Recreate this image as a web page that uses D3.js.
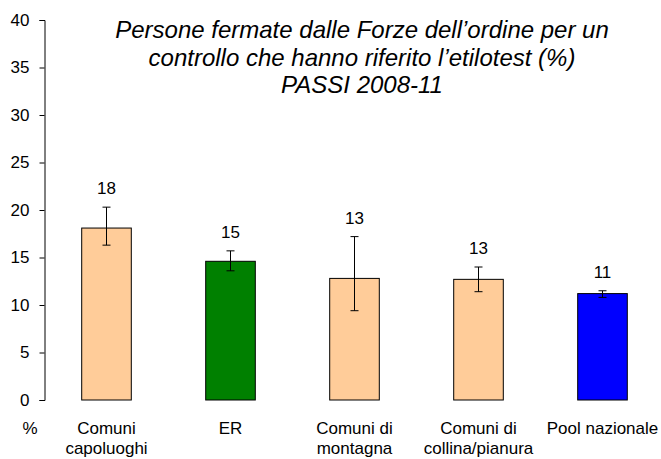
<!DOCTYPE html>
<html>
<head>
<meta charset="utf-8">
<script src="https://cdn.jsdelivr.net/npm/d3@7"></script>
<style>
  body { margin: 0; background: #fff; }
  svg { display: block; font-family: "Liberation Sans", Arial, sans-serif; }
</style>
</head>
<body>
<svg width="661" height="459"></svg>
<script>
const categories = [
  ["Comuni", "capoluoghi"],
  ["ER"],
  ["Comuni di", "montagna"],
  ["Comuni di", "collina/pianura"],
  ["Pool nazionale"],
];
const values = [18.1, 14.6, 12.8, 12.7, 11.2];
const errLow = [16.3, 13.6, 9.4, 11.4, 10.8];
const errHigh = [20.3, 15.7, 17.2, 14.0, 11.5];
const colors = ["#ffcc99", "#008000", "#ffcc99", "#ffcc99", "#0000ff"];
const yTicks = [0, 5, 10, 15, 20, 25, 30, 35, 40];
const titleLines = [
  "Persone fermate dalle Forze dell\u2019ordine per un",
  "controllo che hanno riferito l\u2019etilotest (%)",
  "PASSI 2008-11",
];

const svg = d3.select("svg");
const x0 = 44.5;

const x = d3
  .scaleBand()
  .domain(d3.range(values.length))
  .range([x0, x0 + 620])
  .paddingInner(0.6)
  .paddingOuter(0.3);

const y = d3.scaleLinear().domain([0, 40]).range([400, 20]);

// y axis
const yAxis = svg
  .append("g")
  .attr("transform", "translate(" + x0 + ",0)")
  .call(d3.axisLeft(y).tickValues(yTicks).tickSize(5).tickPadding(10));
yAxis.select(".domain").attr("stroke", "#000");
yAxis.selectAll(".tick line").attr("stroke", "#000");
yAxis.selectAll(".tick text")
  .attr("font-size", 17)
  .attr("fill", "#000")
  .attr("font-family", "Liberation Sans, Arial, sans-serif");

// bars
svg
  .selectAll("rect.bar")
  .data(values)
  .enter()
  .append("rect")
  .attr("class", "bar")
  .attr("x", (d, i) => x(i))
  .attr("y", (d) => y(d))
  .attr("width", x.bandwidth())
  .attr("height", (d) => y(0) - y(d))
  .attr("fill", (d, i) => colors[i])
  .attr("stroke", "#000")
  .attr("stroke-width", 1);

// error bars
const err = svg
  .selectAll("g.err")
  .data(values)
  .enter()
  .append("g")
  .attr("class", "err")
  .attr("stroke", "#000")
  .attr("stroke-width", 1);

err
  .append("line")
  .attr("x1", (d, i) => x(i) + x.bandwidth() / 2)
  .attr("x2", (d, i) => x(i) + x.bandwidth() / 2)
  .attr("y1", (d, i) => y(errLow[i]))
  .attr("y2", (d, i) => y(errHigh[i]));

[errLow, errHigh].forEach((arr) => {
  err
    .append("line")
    .attr("x1", (d, i) => x(i) + x.bandwidth() / 2 - 4)
    .attr("x2", (d, i) => x(i) + x.bandwidth() / 2 + 4)
    .attr("y1", (d, i) => y(arr[i]))
    .attr("y2", (d, i) => y(arr[i]));
});

// value labels
svg
  .selectAll("text.val")
  .data(values)
  .enter()
  .append("text")
  .attr("class", "val")
  .attr("x", (d, i) => x(i) + x.bandwidth() / 2)
  .attr("y", (d, i) => y(errHigh[i]) - 13)
  .attr("text-anchor", "middle")
  .attr("font-size", 17)
  .text((d) => d3.format(".0f")(d));

// category labels
const cat = svg
  .selectAll("text.cat")
  .data(categories)
  .enter()
  .append("text")
  .attr("class", "cat")
  .attr("text-anchor", "middle")
  .attr("font-size", 17)
  .attr("x", (d, i) => x(i) + x.bandwidth() / 2)
  .attr("y", 434);

cat
  .selectAll("tspan")
  .data((d) => d)
  .enter()
  .append("tspan")
  .attr("x", function () {
    return this.parentNode.getAttribute("x");
  })
  .attr("dy", (d, i) => (i === 0 ? 0 : 19.5))
  .text((d) => d);

svg
  .append("text")
  .attr("x", 30)
  .attr("y", 434)
  .attr("text-anchor", "middle")
  .attr("font-size", 17)
  .text("%");

// title
svg
  .append("text")
  .attr("text-anchor", "middle")
  .attr("font-size", 24)
  .attr("font-style", "italic")
  .selectAll("tspan")
  .data(titleLines)
  .enter()
  .append("tspan")
  .attr("x", 362)
  .attr("y", (d, i) => 38 + i * 27.5)
  .text((d) => d);
</script>
</body>
</html>
